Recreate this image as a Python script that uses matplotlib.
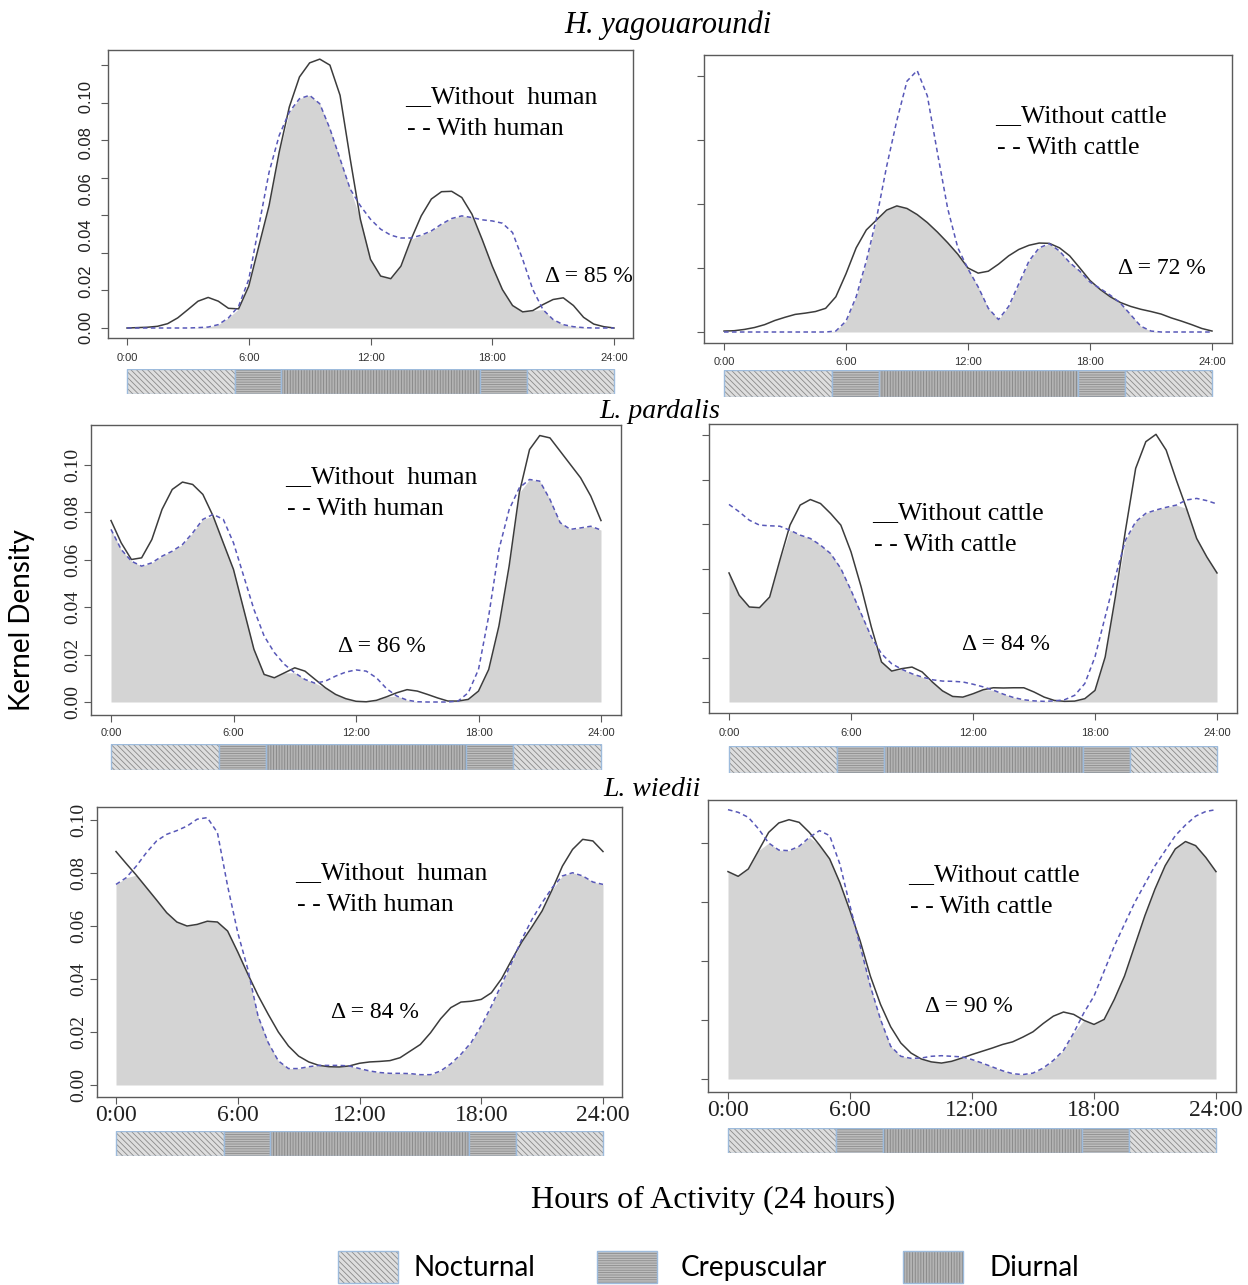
import matplotlib.pyplot as plt
import numpy as np
from matplotlib.patches import Rectangle

W, H = 1248, 1285

# half-hour sampling of the activity curves (hours of day)
HOURS = [0, 0.5, 1, 1.5, 2, 2.5, 3, 3.5, 4, 4.5, 5, 5.5,
         6, 6.5, 7, 7.5, 8, 8.5, 9, 9.5, 10, 10.5, 11, 11.5,
         12, 12.5, 13, 13.5, 14, 14.5, 15, 15.5, 16, 16.5, 17, 17.5,
         18, 18.5, 19, 19.5, 20, 20.5, 21, 21.5, 22, 22.5, 23, 23.5, 24]

# H. yagouaroundi
yag_without_human = [0, 0.0002, 0.0004, 0.0009, 0.0023, 0.0054, 0.0098, 0.0143, 0.0163, 0.0143, 0.0105, 0.0102,
                     0.0223, 0.0438, 0.0652, 0.0938, 0.1179, 0.1339, 0.1414, 0.1434, 0.1402, 0.1241, 0.0902, 0.058,
                     0.0366, 0.0277, 0.0263, 0.033, 0.0473, 0.0598, 0.0688, 0.0727, 0.0729, 0.0696, 0.0607, 0.0473,
                     0.033, 0.0205, 0.012, 0.0086, 0.0093, 0.0125, 0.0152, 0.0161, 0.012, 0.0057, 0.0021, 0.0007, 0]
yag_with_human = [0, 0, 0, 0, 0, 0, 0, 0.0002, 0.0005, 0.0018, 0.0054, 0.0116,
                  0.0259, 0.0545, 0.083, 0.1027, 0.1152, 0.1223, 0.1241, 0.1196, 0.1063, 0.0902, 0.0741, 0.0652,
                  0.058, 0.0527, 0.0495, 0.048, 0.048, 0.0495, 0.0518, 0.0554, 0.0584, 0.0598, 0.0589, 0.0577,
                  0.0571, 0.0559, 0.0509, 0.0366, 0.0205, 0.0098, 0.0045, 0.0018, 0.0007, 0.0002, 0, 0, 0]
yag_without_cattle = [0.0003, 0.0004, 0.0008, 0.0014, 0.0023, 0.0036, 0.0046, 0.0055, 0.0059, 0.0064, 0.0074, 0.011,
                      0.0182, 0.0263, 0.0319, 0.035, 0.0381, 0.0394, 0.0386, 0.0367, 0.0342, 0.0312, 0.0279, 0.0243,
                      0.02, 0.0184, 0.019, 0.0212, 0.0238, 0.0258, 0.0271, 0.0278, 0.0277, 0.0263, 0.0238, 0.02,
                      0.0161, 0.0133, 0.011, 0.0092, 0.008, 0.0071, 0.0064, 0.0056, 0.0044, 0.0034, 0.0023, 0.0011, 0.0003]
yag_with_cattle = [0, 0, 0, 0, 0, 0, 0, 0, 0, 0, 0, 0.0003,
                   0.0034, 0.011, 0.0222, 0.0355, 0.0518, 0.0661, 0.0784, 0.0817, 0.0738, 0.0559, 0.0386, 0.0263,
                   0.0197, 0.0141, 0.0074, 0.0039, 0.008, 0.0151, 0.0222, 0.0263, 0.0276, 0.0253, 0.0217, 0.019,
                   0.0156, 0.0136, 0.0115, 0.009, 0.0054, 0.0018, 0.0003, 0, 0, 0, 0, 0, 0]

# L. pardalis
par_without_human = [0.0764, 0.067, 0.06, 0.0607, 0.0684, 0.0811, 0.0895, 0.0926, 0.0916, 0.0874, 0.0783, 0.067,
                     0.0558, 0.039, 0.0222, 0.0116, 0.0102, 0.0123, 0.0144, 0.013, 0.0095, 0.006, 0.0032, 0.0014,
                     0.0003, 0.0001, 0.0007, 0.0022, 0.0039, 0.0052, 0.0046, 0.0032, 0.0017, 0.0004, 0.0004, 0.0011,
                     0.0046, 0.0137, 0.032, 0.0572, 0.0881, 0.1063, 0.1122, 0.1112, 0.1056, 0.1, 0.0944, 0.0867, 0.0764]
par_with_human = [0.0727, 0.0642, 0.0593, 0.0572, 0.0586, 0.0614, 0.0635, 0.0663, 0.0712, 0.0769, 0.079, 0.0769,
                  0.067, 0.053, 0.039, 0.0278, 0.0208, 0.0158, 0.0123, 0.0095, 0.0079, 0.0088, 0.0109, 0.0126,
                  0.0135, 0.013, 0.0102, 0.0056, 0.0025, 0.0008, 0.0001, 0, 0, 0, 0.0004, 0.0039,
                  0.0137, 0.0362, 0.0642, 0.081, 0.0902, 0.0937, 0.093, 0.0853, 0.0755, 0.0727, 0.0733, 0.074, 0.0724]
par_without_cattle = [0.058, 0.048, 0.0427, 0.0424, 0.0472, 0.0637, 0.0795, 0.0885, 0.091, 0.0892, 0.0847, 0.0795,
                      0.0675, 0.0517, 0.0337, 0.018, 0.0139, 0.015, 0.0157, 0.0135, 0.009, 0.005, 0.0025, 0.0022,
                      0.0037, 0.0055, 0.0064, 0.0063, 0.0064, 0.0064, 0.0045, 0.0022, 0.0007, 0.0003, 0.0004, 0.0015,
                      0.0052, 0.0202, 0.0472, 0.0772, 0.105, 0.117, 0.1203, 0.1132, 0.0997, 0.087, 0.0735, 0.0652, 0.058]
par_with_cattle = [0.0888, 0.0855, 0.0817, 0.0795, 0.0792, 0.079, 0.0772, 0.075, 0.0735, 0.0705, 0.0667, 0.06,
                   0.0502, 0.0397, 0.0292, 0.0217, 0.0172, 0.0147, 0.0127, 0.0112, 0.01, 0.0094, 0.0093, 0.009,
                   0.008, 0.0068, 0.0053, 0.0035, 0.002, 0.001, 0.0005, 0.0003, 0.0005, 0.001, 0.003, 0.0083,
                   0.0203, 0.0383, 0.0563, 0.0728, 0.081, 0.0848, 0.0863, 0.0875, 0.0885, 0.0908, 0.0915, 0.0905, 0.089]

# L. wiedii
wie_without_human = [0.0881, 0.0836, 0.0792, 0.0745, 0.0698, 0.065, 0.0615, 0.06, 0.0606, 0.0618, 0.0615, 0.0581,
                     0.0502, 0.0418, 0.0338, 0.0267, 0.02, 0.0147, 0.0109, 0.0087, 0.0074, 0.0069, 0.0068, 0.0072,
                     0.0082, 0.0087, 0.0089, 0.0092, 0.0103, 0.0128, 0.0153, 0.0197, 0.025, 0.0292, 0.0313, 0.0316,
                     0.0323, 0.0348, 0.0401, 0.0472, 0.054, 0.0597, 0.0657, 0.0738, 0.0826, 0.0889, 0.0927, 0.0921, 0.0881]
wie_with_human = [0.0757, 0.0782, 0.0826, 0.0877, 0.0921, 0.0946, 0.096, 0.0977, 0.1003, 0.1009, 0.0952, 0.0751,
                  0.0575, 0.0436, 0.026, 0.016, 0.0091, 0.0062, 0.0062, 0.0069, 0.0074, 0.0074, 0.0074, 0.0072,
                  0.0062, 0.0053, 0.0047, 0.0044, 0.0044, 0.0043, 0.0039, 0.0039, 0.0053, 0.008, 0.0116, 0.016,
                  0.0223, 0.0298, 0.038, 0.0462, 0.055, 0.0625, 0.0688, 0.0745, 0.0789, 0.0801, 0.0789, 0.0766, 0.0757]
wie_without_cattle = [0.0703, 0.0687, 0.0712, 0.0774, 0.0836, 0.0868, 0.0879, 0.087, 0.0836, 0.0793, 0.0746, 0.0666,
                      0.057, 0.0468, 0.0349, 0.0253, 0.0177, 0.0122, 0.0088, 0.0068, 0.0058, 0.0054, 0.006, 0.0071,
                      0.0083, 0.0094, 0.0105, 0.0117, 0.0126, 0.0142, 0.016, 0.0188, 0.0213, 0.0227, 0.0219, 0.0199,
                      0.0185, 0.0202, 0.027, 0.0349, 0.0451, 0.0553, 0.0644, 0.0723, 0.078, 0.0805, 0.0791, 0.0751, 0.0703]
wie_with_cattle = [0.0913, 0.0904, 0.0887, 0.0848, 0.08, 0.0776, 0.0774, 0.0789, 0.0819, 0.0842, 0.0825, 0.0729,
                   0.0587, 0.0451, 0.0315, 0.0202, 0.0111, 0.0077, 0.007, 0.0071, 0.0077, 0.0079, 0.0077, 0.0075,
                   0.0066, 0.0054, 0.0041, 0.0028, 0.0018, 0.0015, 0.002, 0.0037, 0.0063, 0.0097, 0.0156, 0.0224,
                   0.0281, 0.0366, 0.0451, 0.0525, 0.0598, 0.0661, 0.0723, 0.0774, 0.0825, 0.0861, 0.0891, 0.0907, 0.0913]

SPECIES = ['H. yagouaroundi', 'L. pardalis', 'L. wiedii']
OVERLAP = ['85', '72', '86', '84', '84', '90']
LEGEND_LABELS = [('__Without  human', '- - With human'), ('__Without cattle', '- - With cattle')]
XTICKS = [0, 6, 12, 18, 24]
XTICK_LABELS = ['0:00', '6:00', '12:00', '18:00', '24:00']
YTICK_LABELS = ['0.00', '0.02', '0.04', '0.06', '0.08', '0.10']

# day phases for the strip under every panel
PHASES = ['Nocturnal', 'Crepuscular', 'Diurnal', 'Crepuscular', 'Nocturnal']
PHASE_EDGES = [0, 5.3, 7.6, 17.4, 19.7, 24]
PHASE_STYLE = {
    'Nocturnal': dict(face='#dedede', hatch='\\\\\\\\\\\\', line='#8a8a8a'),
    'Crepuscular': dict(face='#bdbdbd', hatch='-------', line='#8c8c8c'),
    'Diurnal': dict(face='#b3b3b3', hatch='||||||', line='#858585'),
}

plt.rcParams['font.family'] = ['Liberation Serif', 'DejaVu Serif']
plt.rcParams['hatch.linewidth'] = 0.6

fig = plt.figure(figsize=(W / 100, H / 100), dpi=100)


def fx(x):
    return x / W


def fy(y):
    return 1 - y / H


# pixel layout: x of 0:00 / 24:00 ticks, y of zero tick, px per 0.02, box top/bottom,
# strip top/bottom, x label pad, number of y ticks
panels = [
    dict(x0=127, x24=614, y0=328, dy=37.5, top=50, bot=338, btop=369, bbot=394, pad=6, nty=8),
    dict(x0=724, x24=1212, y0=332, dy=64, top=55, bot=343, btop=370, bbot=397, pad=5.4, nty=5),
    dict(x0=111, x24=601, y0=702, dy=47.5, top=425, bot=715, btop=744, bbot=770, pad=4.7, nty=6),
    dict(x0=729, x24=1217, y0=702, dy=44.5, top=424, bot=713, btop=746, bbot=773, pad=6, nty=7),
    dict(x0=116, x24=603, y0=1085, dy=53, top=807, bot=1097, btop=1131, bbot=1156, pad=0.5, nty=6),
    dict(x0=728, x24=1216, y0=1079, dy=59, top=800, bot=1092, btop=1128, bbot=1153, pad=0.5, nty=5),
]
series = [
    (yag_without_human, yag_with_human), (yag_without_cattle, yag_with_cattle),
    (par_without_human, par_with_human), (par_without_cattle, par_with_cattle),
    (wie_without_human, wie_with_human), (wie_without_cattle, wie_with_cattle),
]
legend_pos = [(405, 97), (995, 116), (285, 477), (872, 513), (295, 873), (908, 875)]
delta_pos = [(545, 276), (1118, 268), (338, 646), (962, 645), (331, 1012), (925, 1006)]

hours = np.array(HOURS)
for i, (p, (solid, dashed)) in enumerate(zip(panels, series)):
    ppx = (p['x24'] - p['x0']) / 24
    left = p['x0'] - 0.96 * ppx
    right = p['x24'] + 0.96 * ppx
    ax = fig.add_axes([fx(left), fy(p['bot']), (right - left) / W, (p['bot'] - p['top']) / H])
    ax.set_xlim(-0.96, 24.96)
    ax.set_ylim(-(p['bot'] - p['y0']) / p['dy'] * 0.02, (p['y0'] - p['top']) / p['dy'] * 0.02)

    solid = np.array(solid)
    dashed = np.array(dashed)
    ax.fill_between(hours, 0, np.minimum(solid, dashed), color='#d4d4d4', lw=0)
    ax.plot(hours, solid, color='#3c3c3c', lw=1.1, solid_joinstyle='round')
    ax.plot(hours, dashed, color='#5858b8', lw=1.1, dashes=(3, 2.2))

    for s in ax.spines.values():
        s.set_color('#5a5a5a')
        s.set_linewidth(1)
    ax.set_xticks(XTICKS)
    ax.set_yticks([0.02 * k for k in range(p['nty'])])
    ax.tick_params(direction='out', length=5, width=0.8, color='#5a5a5a')
    ax.tick_params(axis='x', pad=p['pad'])
    if i >= 4:
        ax.set_xticklabels(XTICK_LABELS, fontsize=17, family='Liberation Serif', color='#222222')
    else:
        ax.set_xticklabels(XTICK_LABELS, fontsize=8, family='Liberation Sans', color='#333333')
    if i in (2, 4):
        ax.set_yticklabels(YTICK_LABELS, fontsize=14, rotation=90, va='center', color='#222222')
        ax.tick_params(axis='y', pad=2)
    else:
        ax.set_yticklabels([])

    # day phase strip
    bax = fig.add_axes([fx(left), fy(p['bbot']), (right - left) / W, (p['bbot'] - p['btop']) / H])
    bax.set_xlim(-0.96, 24.96)
    bax.set_ylim(0, 1)
    bax.axis('off')
    for ph, a, b in zip(PHASES, PHASE_EDGES[:-1], PHASE_EDGES[1:]):
        st = PHASE_STYLE[ph]
        bax.add_patch(Rectangle((a, 0), b - a, 1, facecolor=st['face'], edgecolor=st['line'],
                                hatch=st['hatch'], lw=0))
        bax.add_patch(Rectangle((a, 0), b - a, 1, fill=False, edgecolor='#9dbbdc', lw=1))

    lx, ly = legend_pos[i]
    lab = LEGEND_LABELS[i % 2]
    fig.text(fx(lx), fy(ly), lab[0], fontsize=18.5, va='center', ha='left')
    fig.text(fx(lx + 2), fy(ly + 32), lab[1], fontsize=18.5, va='center', ha='left')
    dx, dyy = delta_pos[i]
    fig.text(fx(dx), fy(dyy), '\u0394 = ' + OVERLAP[i] + ' %', fontsize=17, va='center', ha='left')

# top-left panel y labels sit as one strip beside the ticks
fig.text(fx(87), fy(212), '0.00   0.02   0.04   0.06   0.08   0.10', rotation=90,
         fontsize=12, family='Liberation Sans', ha='center', va='center', color='#222222')

# species titles
for name, (tx, ty), fs in zip(SPECIES, [(668, 25), (660, 412), (652, 790)], [22, 20, 20]):
    fig.text(fx(tx), fy(ty), name, fontsize=fs, style='italic', ha='center', va='center')

fig.text(fx(22), fy(620), 'Kernel Density', rotation=90, fontsize=20, family='Lato',
         ha='center', va='center')
fig.text(fx(713), fy(1200), 'Hours of Activity (24 hours)', fontsize=23, ha='center', va='center')

# phase legend
for ph, (bx, tx) in zip(['Nocturnal', 'Crepuscular', 'Diurnal'], [(338, 413), (597, 681), (903, 990)]):
    st = PHASE_STYLE[ph]
    fig.add_artist(Rectangle((fx(bx), fy(1283)), 60 / W, 32 / H, transform=fig.transFigure,
                             facecolor=st['face'], edgecolor=st['line'], hatch=st['hatch'], lw=0))
    fig.add_artist(Rectangle((fx(bx), fy(1283)), 60 / W, 32 / H, transform=fig.transFigure,
                             fill=False, edgecolor='#9dbbdc', lw=1))
    fig.text(fx(tx), fy(1268), ph, fontsize=20, family='Lato', ha='left', va='center')

fig.savefig('out.png', dpi=100)
